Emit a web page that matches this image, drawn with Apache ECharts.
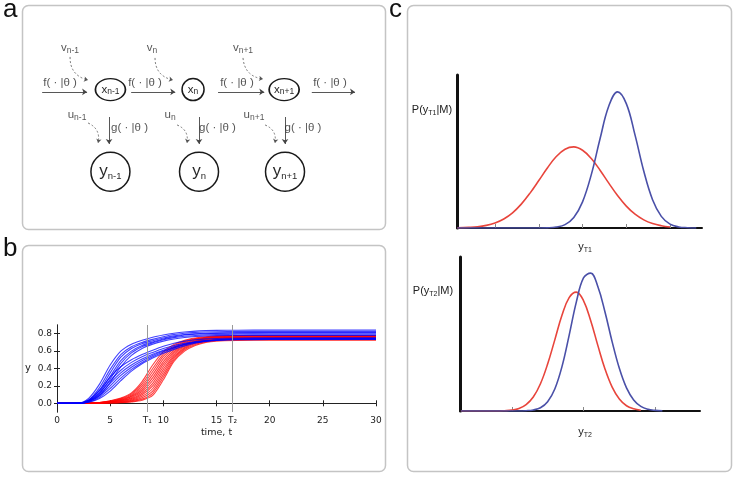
<!DOCTYPE html>
<html>
<head>
<meta charset="utf-8">
<script src="https://cdn.jsdelivr.net/npm/echarts@6/dist/echarts.min.js"></script>
<style>
html,body{margin:0;padding:0;background:#fff;}
#chart{width:736px;height:477px;}
</style>
</head>
<body>
<div id="chart"></div>
<script>
// ---- panel a: state space model (columns n-1, n, n+1) ----
const nodeSubs = ['n-1', 'n', 'n+1'];
const stateCol = [0, 0.956, 2.01];
const stateRow = 0.02;
const obsCol = [0, 1.025, 2.02];
const obsRow = 1.01;
const fFrom = [-0.79, 0.24, 1.245, 2.33];
const fTo = [-0.27, 0.75, 1.78, 2.83];
const fRow = 0.048;
const fLabelCol = [-0.583, 0.4, 1.464, 2.54];
const fLabelRow = -0.06;
const gCol = [-0.016, 1.025, 2.02];
const gFrom = 0.35, gTo = 0.675;
const gLabelCol = [0.221, 1.239, 2.228];
const gLabelRow = 0.482;
const vLabelCol = [-0.467, 0.481, 1.534];
const vLabelRow = -0.482;
const uLabelCol = [-0.386, 0.69, 1.661];
const uLabelRow = 0.325;
const vArrowFrom = [[-0.467, -0.374], [0.516, -0.362], [1.534, -0.362]];
const vArrowTo = [[-0.259, -0.096], [0.724, -0.096], [1.766, -0.108]];
const uArrowFrom = [[-0.259, 0.422], [0.771, 0.446], [1.789, 0.446]];
const uArrowTo = [[-0.143, 0.663], [0.886, 0.663], [1.904, 0.663]];

// ---- panel b: simulated trajectories ----
const times = [0, 2, 3, 4, 5, 6, 7, 8, 9, 10, 11, 12, 13, 14, 15, 17, 20, 30];
const blueRuns = [
  [0, 0.003, 0.06, 0.22, 0.44, 0.60, 0.68, 0.725, 0.76, 0.785, 0.805, 0.82, 0.83, 0.835, 0.838, 0.84, 0.841, 0.841],
  [0, 0.002, 0.04, 0.18, 0.39, 0.56, 0.65, 0.70, 0.735, 0.765, 0.79, 0.805, 0.815, 0.82, 0.823, 0.825, 0.826, 0.826],
  [0, 0.002, 0.035, 0.15, 0.35, 0.53, 0.63, 0.685, 0.72, 0.75, 0.775, 0.79, 0.80, 0.806, 0.81, 0.812, 0.813, 0.813],
  [0, 0.001, 0.03, 0.13, 0.31, 0.49, 0.60, 0.665, 0.705, 0.74, 0.765, 0.785, 0.795, 0.80, 0.803, 0.806, 0.807, 0.807],
  [0, 0.001, 0.025, 0.11, 0.28, 0.46, 0.58, 0.65, 0.695, 0.73, 0.755, 0.77, 0.78, 0.787, 0.79, 0.793, 0.794, 0.794],
  [0, 0.001, 0.02, 0.09, 0.24, 0.42, 0.55, 0.63, 0.68, 0.715, 0.74, 0.757, 0.768, 0.774, 0.778, 0.78, 0.781, 0.781],
  [0, 0.002, 0.04, 0.15, 0.30, 0.42, 0.50, 0.56, 0.61, 0.655, 0.69, 0.715, 0.73, 0.74, 0.745, 0.75, 0.752, 0.752],
  [0, 0.001, 0.03, 0.12, 0.26, 0.38, 0.47, 0.535, 0.585, 0.63, 0.665, 0.69, 0.71, 0.722, 0.73, 0.736, 0.738, 0.738],
  [0, 0.001, 0.025, 0.10, 0.23, 0.35, 0.44, 0.51, 0.565, 0.61, 0.65, 0.68, 0.70, 0.715, 0.724, 0.73, 0.733, 0.733],
  [0, 0.001, 0.02, 0.085, 0.20, 0.32, 0.415, 0.49, 0.55, 0.60, 0.64, 0.675, 0.70, 0.718, 0.728, 0.738, 0.742, 0.743],
  [0, 0.001, 0.015, 0.07, 0.17, 0.29, 0.39, 0.47, 0.535, 0.59, 0.635, 0.675, 0.70, 0.718, 0.73, 0.74, 0.745, 0.746],
  [0, 0, 0.012, 0.055, 0.14, 0.26, 0.37, 0.455, 0.52, 0.575, 0.62, 0.66, 0.69, 0.71, 0.722, 0.733, 0.738, 0.74]
];
const redRuns = [
  [0, 0, 0.002, 0.010, 0.030, 0.060, 0.120, 0.250, 0.440, 0.590, 0.675, 0.725, 0.750, 0.765, 0.773, 0.778, 0.780, 0.780],
  [0, 0, 0.002, 0.009, 0.026, 0.054, 0.108, 0.224, 0.400, 0.565, 0.660, 0.716, 0.744, 0.760, 0.768, 0.773, 0.775, 0.775],
  [0, 0, 0.002, 0.008, 0.023, 0.048, 0.096, 0.200, 0.365, 0.540, 0.645, 0.708, 0.740, 0.756, 0.764, 0.769, 0.771, 0.771],
  [0, 0, 0.001, 0.007, 0.020, 0.042, 0.085, 0.178, 0.330, 0.510, 0.628, 0.698, 0.733, 0.750, 0.759, 0.764, 0.766, 0.766],
  [0, 0, 0.001, 0.006, 0.017, 0.036, 0.074, 0.156, 0.295, 0.480, 0.610, 0.688, 0.727, 0.746, 0.755, 0.760, 0.762, 0.762],
  [0, 0, 0.001, 0.005, 0.015, 0.031, 0.064, 0.136, 0.262, 0.450, 0.592, 0.676, 0.720, 0.740, 0.750, 0.755, 0.757, 0.757],
  [0, 0, 0.001, 0.004, 0.012, 0.026, 0.054, 0.116, 0.230, 0.420, 0.573, 0.665, 0.713, 0.735, 0.745, 0.750, 0.752, 0.752],
  [0, 0, 0.001, 0.003, 0.010, 0.021, 0.045, 0.098, 0.200, 0.390, 0.555, 0.654, 0.705, 0.729, 0.740, 0.745, 0.747, 0.747],
  [0, 0, 0, 0.002, 0.008, 0.017, 0.036, 0.080, 0.170, 0.360, 0.536, 0.642, 0.697, 0.723, 0.735, 0.740, 0.742, 0.742],
  [0, 0, 0, 0.002, 0.006, 0.013, 0.028, 0.064, 0.140, 0.330, 0.517, 0.630, 0.688, 0.717, 0.730, 0.735, 0.737, 0.737],
  [0, 0, 0, 0.001, 0.005, 0.010, 0.021, 0.048, 0.115, 0.300, 0.498, 0.615, 0.677, 0.709, 0.722, 0.729, 0.731, 0.731],
  [0, 0, 0, 0.001, 0.003, 0.007, 0.015, 0.035, 0.090, 0.270, 0.480, 0.600, 0.665, 0.700, 0.715, 0.722, 0.725, 0.725]
];
const timeTicks = [0, 5, 8.5, 10, 15, 16.5, 20, 25, 30];
const timeTickLabels = ['0', '5', 'T₁', '10', '15', 'T₂', '20', '25', '30'];
const markTimes = [8.5, 16.5];
const yTicks = [0, 0.2, 0.4, 0.6, 0.8];

// ---- panel c: predictive densities at T1 and T2 ----
const gridT1 = [0.14, 0.4, 0.6, 0.8, 1.0, 1.2, 1.4, 1.6, 1.8, 2.0, 2.2, 2.4, 2.6, 2.8, 3.0, 3.2, 3.4, 3.6, 3.8, 4.0, 4.2, 4.4, 4.6, 4.8, 5.0, 5.2, 5.4, 5.6];
const redT1 = [0.001, 0.004, 0.008, 0.017, 0.033, 0.059, 0.099, 0.156, 0.228, 0.310, 0.394, 0.467, 0.515, 0.530, 0.508, 0.454, 0.378, 0.293, 0.212, 0.143, 0.090, 0.053, 0.029, 0.015, 0.007];
const blueT1 = [0, 0, 0, 0, 0, 0, 0, 0, 0, 0, 0.001, 0.006, 0.022, 0.069, 0.171, 0.349, 0.583, 0.797, 0.890, 0.813, 0.607, 0.371, 0.185, 0.076, 0.025, 0.007, 0.002, 0];
const ticksT1 = [1, 2, 3, 4, 5];
const gridT2 = [0.29, 0.4, 0.5, 0.6, 0.7, 0.8, 0.9, 1.0, 1.1, 1.2, 1.3, 1.4, 1.5, 1.6, 1.7, 1.8, 1.9, 2.0, 2.1, 2.2, 2.3, 2.4, 2.5, 2.6, 2.7, 2.8, 2.9, 3.0, 3.1];
const redT2 = [0, 0, 0, 0, 0, 0, 0.002, 0.006, 0.017, 0.042, 0.091, 0.177, 0.305, 0.462, 0.621, 0.736, 0.772, 0.717, 0.588, 0.426, 0.273, 0.155, 0.078, 0.034, 0.014, 0.005];
const blueT2 = [0, 0, 0, 0, 0, 0, 0, 0, 0, 0.002, 0.007, 0.021, 0.060, 0.143, 0.288, 0.491, 0.707, 0.864, 0.895, 0.808, 0.643, 0.449, 0.277, 0.150, 0.072, 0.030, 0.011, 0.004, 0.001];
const ticksT2 = [1, 2, 3];

const fontA = 'Liberation Sans';
const fontB = 'DejaVu Sans';
const sub = (m, s) => '{m|' + m + '}{s|' + s + '}';
const richSmall = {
  m: {fontSize: 11.5, color: '#2a2a2a', fontFamily: fontA, lineHeight: 14},
  s: {fontSize: 8.5, color: '#2a2a2a', fontFamily: fontA, lineHeight: 14, verticalAlign: 'bottom'}
};
const richBig = {
  m: {fontSize: 17, color: '#2a2a2a', fontFamily: fontA, lineHeight: 20},
  s: {fontSize: 9.5, color: '#2a2a2a', fontFamily: fontA, lineHeight: 20, verticalAlign: 'bottom'}
};
const richC = {
  m: {fontSize: 11, fontFamily: fontA, fill: '#222', lineHeight: 14},
  s: {fontSize: 7, fontFamily: fontA, fill: '#222', lineHeight: 14, verticalAlign: 'bottom'}
};

let myChart = echarts.init(document.getElementById('chart'));

// text pieces of panel a
const textItems = [];
fLabelCol.forEach(c => textItems.push({value: [c, fLabelRow], label: {formatter: '{m|f( · |θ )}'}}));
gLabelCol.forEach(c => textItems.push({value: [c, gLabelRow], label: {formatter: '{m|g( · |θ )}'}}));
vLabelCol.forEach((c, i) => textItems.push({value: [c, vLabelRow], label: {formatter: sub('v', nodeSubs[i])}}));
uLabelCol.forEach((c, i) => textItems.push({value: [c, uLabelRow], label: {formatter: sub('u', nodeSubs[i])}}));

const solidArrows = [];
fFrom.forEach((c, i) => solidArrows.push({coords: [[c, fRow], [fTo[i], fRow]]}));
gCol.forEach(c => solidArrows.push({coords: [[c, gFrom], [c, gTo]]}));
const dashedArrows = [];
vArrowFrom.forEach((p, i) => dashedArrows.push({coords: [p, vArrowTo[i]], lineStyle: {curveness: -0.4}}));
uArrowFrom.forEach((p, i) => dashedArrows.push({coords: [p, uArrowTo[i]], lineStyle: {curveness: 0.4}}));

const runSeries = (runs, color) => runs.map(vals => ({
  type: 'line', xAxisIndex: 1, yAxisIndex: 1,
  data: vals.map((v, i) => [times[i], v]),
  showSymbol: false, smooth: 0.3, silent: true,
  lineStyle: {color: color, width: 1.1, opacity: 0.75}
}));

const densitySeries = (xs, ys, color, axis) => ({
  type: 'line', xAxisIndex: axis, yAxisIndex: axis,
  data: ys.map((v, i) => [xs[i], v]),
  showSymbol: false, smooth: 0.4, silent: true,
  lineStyle: {color: color, width: 1.6}
});

const redSeries = runSeries(redRuns, '#ff0000');
redSeries[0].markLine = {
  silent: true, symbol: 'none', label: {show: false},
  lineStyle: {color: '#999', width: 1, type: 'solid'},
  data: markTimes.map(t => ({xAxis: t}))
};

const bTick = {inside: true, length: 3, lineStyle: {color: '#222'}};

let option = {
  animation: false,
  backgroundColor: '#fff',
  grid: [
    {left: 24, top: 5, width: 363, height: 224},
    {left: 57, top: 325, width: 319, height: 87},
    {left: 457, top: 75, width: 245, height: 153},
    {left: 460, top: 257, width: 240, height: 154}
  ],
  xAxis: [
    {gridIndex: 0, type: 'value', min: -1, max: 3.2, show: false},
    {
      gridIndex: 1, type: 'value', min: 0, max: 30, position: 'bottom',
      name: 'time, t', nameLocation: 'middle', nameGap: 16,
      nameTextStyle: {fontFamily: fontB, fontSize: 9.5, color: '#222'},
      axisLine: {lineStyle: {color: '#222', width: 1}},
      axisTick: Object.assign({customValues: timeTicks}, bTick),
      axisLabel: {customValues: timeTicks, formatter: v => timeTickLabels[timeTicks.indexOf(v)],
        fontFamily: fontB, fontSize: 9, color: '#222', margin: 4},
      splitLine: {show: false}
    },
    {
      gridIndex: 1, type: 'value', min: 0, max: 30, position: 'top',
      axisLine: {lineStyle: {color: '#222', width: 1}},
      axisTick: Object.assign({customValues: timeTicks}, bTick),
      axisLabel: {show: false}, splitLine: {show: false}
    },
    {
      gridIndex: 2, type: 'value', min: 0.131, max: 5.73,
      axisLine: {lineStyle: {color: '#111', width: 2}},
      axisTick: {customValues: ticksT1, inside: true, length: 4, lineStyle: {color: '#888'}},
      axisLabel: {show: false}, splitLine: {show: false}
    },
    {
      gridIndex: 3, type: 'value', min: 0.278, max: 3.625,
      axisLine: {lineStyle: {color: '#111', width: 2}},
      axisTick: {customValues: ticksT2, inside: true, length: 4, lineStyle: {color: '#888'}},
      axisLabel: {show: false}, splitLine: {show: false}
    }
  ],
  yAxis: [
    {gridIndex: 0, type: 'value', min: -1, max: 1.7, inverse: true, show: false},
    {
      gridIndex: 1, type: 'value', min: -0.1, max: 0.9, position: 'left',
      name: 'y', nameLocation: 'middle', nameGap: 26, nameRotate: 0,
      nameTextStyle: {fontFamily: fontB, fontSize: 10, color: '#222'},
      axisLine: {show: true, lineStyle: {color: '#222', width: 1}},
      axisTick: Object.assign({customValues: yTicks}, bTick),
      axisLabel: {customValues: yTicks, formatter: v => v.toFixed(1),
        fontFamily: fontB, fontSize: 9, color: '#222', margin: 5},
      splitLine: {show: false}
    },
    {
      gridIndex: 1, type: 'value', min: -0.1, max: 0.9, position: 'right',
      axisLine: {show: true, lineStyle: {color: '#222', width: 1}},
      axisTick: Object.assign({customValues: yTicks}, bTick),
      axisLabel: {show: false}, splitLine: {show: false}
    },
    {
      gridIndex: 2, type: 'value', min: 0, max: 1,
      axisLine: {show: true, lineStyle: {color: '#111', width: 3}},
      axisTick: {show: false}, axisLabel: {show: false}, splitLine: {show: false}
    },
    {
      gridIndex: 3, type: 'value', min: 0, max: 1,
      axisLine: {show: true, lineStyle: {color: '#111', width: 3}},
      axisTick: {show: false}, axisLabel: {show: false}, splitLine: {show: false}
    }
  ],
  graphic: [
    {type: 'rect', z: -10, shape: {x: 22.5, y: 5.5, width: 363, height: 224, r: 6},
      style: {fill: 'none', stroke: '#c4c4c4', lineWidth: 1.5}},
    {type: 'rect', z: -10, shape: {x: 22.5, y: 245.5, width: 363, height: 226, r: 6},
      style: {fill: 'none', stroke: '#c4c4c4', lineWidth: 1.5}},
    {type: 'rect', z: -10, shape: {x: 407.5, y: 5.5, width: 324, height: 466, r: 6},
      style: {fill: 'none', stroke: '#c4c4c4', lineWidth: 1.5}},
    {type: 'text', x: 3, y: 10, style: {text: 'a', fontSize: 26, fontFamily: fontA, fill: '#111', verticalAlign: 'middle'}},
    {type: 'text', x: 3, y: 249, style: {text: 'b', fontSize: 26, fontFamily: fontA, fill: '#111', verticalAlign: 'middle'}},
    {type: 'text', x: 389, y: 10, style: {text: 'c', fontSize: 26, fontFamily: fontA, fill: '#111', verticalAlign: 'middle'}},
    {type: 'text', x: 432, y: 110, style: {text: '{m|P(y}{s|T1}{m||M)}', align: 'center', verticalAlign: 'middle', rich: richC}},
    {type: 'text', x: 585, y: 247, style: {text: '{m|y}{s|T1}', align: 'center', verticalAlign: 'middle', rich: richC}},
    {type: 'text', x: 433, y: 291, style: {text: '{m|P(y}{s|T2}{m||M)}', align: 'center', verticalAlign: 'middle', rich: richC}},
    {type: 'text', x: 585, y: 432, style: {text: '{m|y}{s|T2}', align: 'center', verticalAlign: 'middle', rich: richC}}
  ],
  series: [
    // panel a
    {
      type: 'lines', coordinateSystem: 'cartesian2d', xAxisIndex: 0, yAxisIndex: 0, silent: true,
      symbol: ['none', 'arrow'], symbolSize: 5,
      lineStyle: {color: '#444', width: 0.9, curveness: 0, opacity: 1},
      data: solidArrows
    },
    {
      type: 'lines', coordinateSystem: 'cartesian2d', xAxisIndex: 0, yAxisIndex: 0, silent: true,
      symbol: ['none', 'arrow'], symbolSize: 4,
      lineStyle: {color: '#555', width: 0.8, type: [2, 2], opacity: 1},
      data: dashedArrows
    },
    {
      type: 'scatter', xAxisIndex: 0, yAxisIndex: 0, silent: true,
      symbol: 'circle',
      symbolSize: (v, p) => nodeSubs[p.dataIndex].length > 1 ? [30, 22] : [22, 22],
      itemStyle: {color: '#fff', borderColor: '#1a1a1a', borderWidth: 1.5, opacity: 1},
      label: {show: true, position: 'inside', rich: richSmall},
      data: stateCol.map((c, i) => ({value: [c, stateRow], label: {formatter: sub('x', nodeSubs[i])}}))
    },
    {
      type: 'scatter', xAxisIndex: 0, yAxisIndex: 0, silent: true,
      symbol: 'circle', symbolSize: 39,
      itemStyle: {color: '#fff', borderColor: '#1a1a1a', borderWidth: 1.5, opacity: 1},
      label: {show: true, position: 'inside', rich: richBig},
      data: obsCol.map((c, i) => ({value: [c, obsRow], label: {formatter: sub('y', nodeSubs[i])}}))
    },
    {
      type: 'scatter', xAxisIndex: 0, yAxisIndex: 0, silent: true,
      symbolSize: 0,
      label: {show: true, position: 'inside', rich: richSmall},
      data: textItems
    },
    // panel b
    ...redSeries,
    ...runSeries(blueRuns, '#0000ff'),
    // panel c
    densitySeries(gridT1, redT1, '#e8453c', 3),
    densitySeries(gridT1, blueT1, '#4a50a8', 3),
    densitySeries(gridT2, redT2, '#e8453c', 4),
    densitySeries(gridT2, blueT2, '#4a50a8', 4)
  ]
};

myChart.setOption(option);
</script>
</body>
</html>
